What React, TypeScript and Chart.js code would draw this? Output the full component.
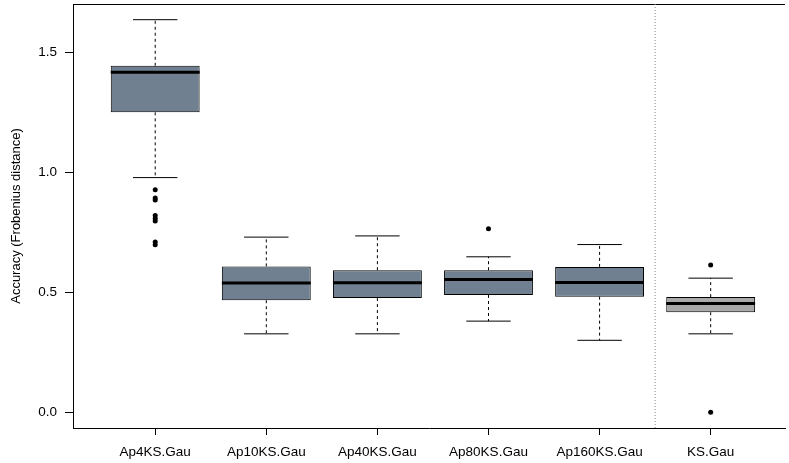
import React, { useEffect, useRef } from "react";
import { Chart, registerables } from "chart.js";

Chart.register(...registerables);

const categories = ["Ap4KS.Gau", "Ap10KS.Gau", "Ap40KS.Gau", "Ap80KS.Gau", "Ap160KS.Gau", "KS.Gau"];
const whiskerLow = [0.978, 0.327, 0.327, 0.380, 0.300, 0.327];
const q1 = [1.250, 0.467, 0.476, 0.489, 0.482, 0.417];
const medians = [1.417, 0.539, 0.540, 0.553, 0.541, 0.453];
const q3 = [1.444, 0.608, 0.592, 0.592, 0.606, 0.480];
const whiskerHigh = [1.636, 0.730, 0.735, 0.648, 0.699, 0.559];
const outliers: number[][] = [
  [0.927, 0.893, 0.885, 0.820, 0.808, 0.797, 0.710, 0.698],
  [],
  [],
  [0.765],
  [],
  [0.614, 0.0],
];
const boxColors = ["#708090", "#708090", "#708090", "#708090", "#708090", "#A9A9A9"];
const yTicks = [0, 0.5, 1.0, 1.5];
const separatorAt = 5.5;
const yTitle = "Accuracy (Frobenius distance)";

const FONT = "'Liberation Sans', Arial, Helvetica, sans-serif";

const boxExtras = {
  id: "boxExtras",
  beforeDatasetsDraw(chart: any) {
    const { ctx, chartArea, scales } = chart;
    const x = scales.x;
    ctx.save();
    ctx.strokeStyle = "#000";
    ctx.lineWidth = 1;
    ctx.beginPath();
    ctx.moveTo(chartArea.left, Math.round(chartArea.top) + 0.5);
    ctx.lineTo(chartArea.right, Math.round(chartArea.top) + 0.5);
    ctx.stroke();
    const sx = x.getPixelForValue(separatorAt);
    ctx.strokeStyle = "#888";
    ctx.setLineDash([1, 2]);
    ctx.beginPath();
    ctx.moveTo(sx, chartArea.top);
    ctx.lineTo(sx, chartArea.bottom);
    ctx.stroke();
    ctx.restore();
  },
  afterDatasetsDraw(chart: any) {
    const { ctx, scales } = chart;
    const x = scales.x;
    const y = scales.y;
    const meta = chart.getDatasetMeta(0);
    ctx.save();
    categories.forEach((_, i) => {
      const bar = meta.data[i];
      const w = bar.width;
      const cx = x.getPixelForValue(i + 1);
      const half = w / 2;
      const staple = w / 4;
      ctx.strokeStyle = "#000";
      ctx.lineWidth = 1;
      ctx.setLineDash([3, 3]);
      ctx.beginPath();
      ctx.moveTo(cx, y.getPixelForValue(q3[i]));
      ctx.lineTo(cx, y.getPixelForValue(whiskerHigh[i]));
      ctx.moveTo(cx, y.getPixelForValue(q1[i]));
      ctx.lineTo(cx, y.getPixelForValue(whiskerLow[i]));
      ctx.stroke();
      ctx.setLineDash([]);
      ctx.beginPath();
      const yh = y.getPixelForValue(whiskerHigh[i]);
      const yl = y.getPixelForValue(whiskerLow[i]);
      ctx.moveTo(cx - staple, yh);
      ctx.lineTo(cx + staple, yh);
      ctx.moveTo(cx - staple, yl);
      ctx.lineTo(cx + staple, yl);
      ctx.stroke();
      ctx.lineWidth = 3;
      ctx.beginPath();
      const ym = y.getPixelForValue(medians[i]);
      ctx.moveTo(cx - half, ym);
      ctx.lineTo(cx + half, ym);
      ctx.stroke();
    });
    ctx.restore();
  },
};

export default function App() {
  const ref = useRef<HTMLCanvasElement>(null);
  useEffect(() => {
    document.body.style.margin = "0";
    const boxData = categories.map((_, i) => ({ x: i + 1, y: [q1[i], q3[i]] }));
    const outlierData = outliers.flatMap((vals, i) => vals.map((v) => ({ x: i + 1, y: v })));
    const chart = new Chart(ref.current as HTMLCanvasElement, {
      type: "bar",
      data: {
        datasets: [
          {
            type: "bar",
            data: boxData as any,
            backgroundColor: boxColors,
            borderColor: "#000",
            borderWidth: 1,
            borderSkipped: false,
            categoryPercentage: 1,
            barPercentage: 0.8,
            grouped: false,
          } as any,
          {
            type: "scatter",
            data: outlierData,
            backgroundColor: "#000",
            borderColor: "#000",
            pointRadius: 2.5,
            pointBorderWidth: 0,
            showLine: false,
          } as any,
        ],
      },
      options: {
        animation: false,
        responsive: false,
        devicePixelRatio: 1,
        layout: { padding: { top: 1, left: 0, right: 0, bottom: 0 } },
        plugins: { legend: { display: false }, tooltip: { enabled: false } },
        scales: {
          x: {
            type: "linear",
            min: 0.26,
            max: 6.669,
            offset: false,
            afterBuildTicks: (s: any) => {
              s.ticks = categories.map((_, i) => ({ value: i + 1 }));
            },
            afterFit: (s: any) => {
              s.height = 35;
              s.paddingLeft = 0;
              s.paddingRight = 0;
            },
            ticks: {
              callback: (_v: any, idx: number) => categories[idx] ?? "",
              autoSkip: false,
              maxRotation: 0,
              minRotation: 0,
              padding: 9,
              color: "#000",
              font: { family: FONT, size: 13.5 },
            },
            grid: { offset: false, drawOnChartArea: false, drawTicks: true, tickLength: 7, color: "#000", lineWidth: 1 },
            border: { display: true, color: "#000", width: 1 },
          },
          y: {
            type: "linear",
            min: -0.0654,
            max: 1.7014,
            beginAtZero: false,
            afterBuildTicks: (s: any) => {
              s.ticks = yTicks.map((v) => ({ value: v }));
            },
            afterFit: (s: any) => {
              s.width = 73;
              s.paddingTop = 0;
              s.paddingBottom = 0;
            },
            ticks: {
              callback: (v: any) => Number(v).toFixed(1),
              padding: 8,
              color: "#000",
              font: { family: FONT, size: 13.5 },
            },
            grid: { drawOnChartArea: false, drawTicks: true, tickLength: 8, color: "#000", lineWidth: 1 },
            border: { display: true, color: "#000", width: 1 },
            title: {
              display: true,
              text: yTitle,
              color: "#000",
              font: { family: FONT, size: 13 },
              padding: { top: 9, bottom: 0 },
            },
          },
        },
      },
      plugins: [boxExtras],
    } as any);
    return () => chart.destroy();
  }, []);
  return (
    <div style={{ position: "fixed", left: 0, top: 0, width: 789, height: 463, background: "#fff" }}>
      <canvas ref={ref} width={789} height={463} style={{ display: "block", width: 789, height: 463 }} />
    </div>
  );
}
